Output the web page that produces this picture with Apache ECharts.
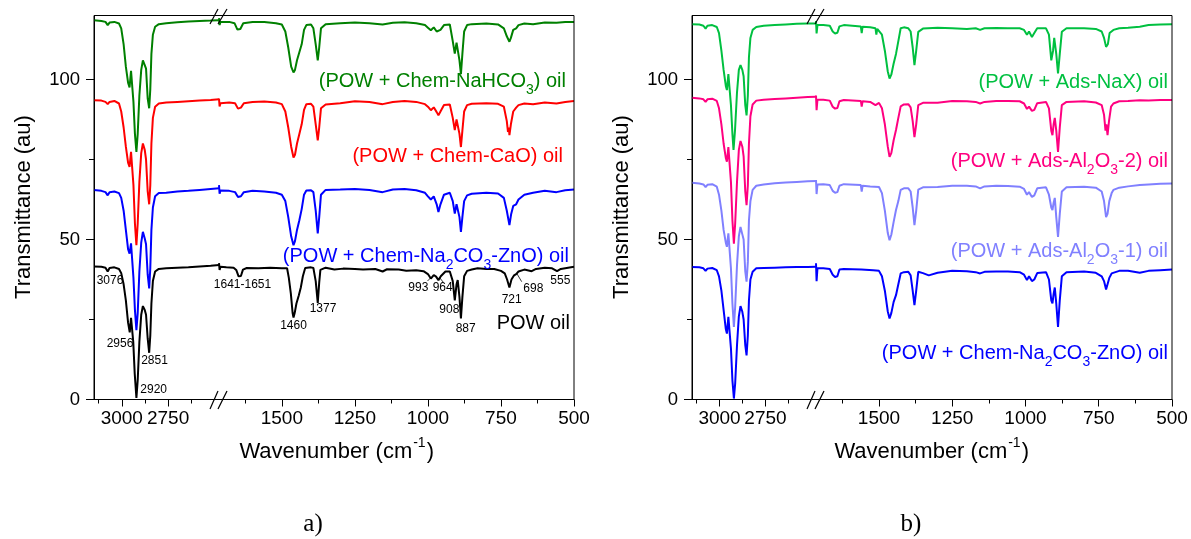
<!DOCTYPE html>
<html><head><meta charset="utf-8">
<script src="https://cdn.jsdelivr.net/npm/echarts@6/dist/echarts.min.js"></script>
<style>html,body{margin:0;padding:0;background:#fff}#c{width:1191px;height:539px}</style>
</head><body><div id="c"></div>
<script>
// ---------- DATA (wavenumber cm-1, transmittance au) ----------
const xMajorHigh = [3000, 2750];
const xMinorHigh = [3125, 2875, 2625];
const xMajorLow = [1500, 1250, 1000, 750, 500];
const xMinorLow = [1625, 1375, 1125, 875, 625];
const yMajor = [0, 50, 100];
const yMinor = [25, 75];

const powOil = [[3150,41.6],[3110,41.5],[3088,41.2],[3076,40.0],[3066,41.1],[3040,41.3],[3015,40.8],[3003,39.5],[2990,36],[2978,31],[2966,24],[2957,21],[2950,25.5],[2945,26],[2938,18],[2930,8],[2921,0.5],[2914,6],[2905,18],[2895,26.5],[2886,29.2],[2876,28],[2869,26.5],[2860,19],[2852,14.6],[2846,20],[2840,30],[2832,37],[2820,40],[2800,40.8],[2760,41],[2700,41.2],[2640,41.3],[2580,41.6],[2520,41.8],[2475,42.0],
[1715,42.6],[1713,40.5],[1710,41.5],[1690,41.3],[1665,41.2],[1656,40.5],[1648,38.5],[1640,38.6],[1633,40.6],[1620,41.1],[1580,41.0],[1540,41.2],[1500,41.0],[1482,41],[1476,38],[1469,33],[1463,27],[1460,25.6],[1456,27],[1450,30],[1442,32.5],[1435,35],[1428,38.5],[1420,41.1],[1400,41.3],[1392,41.1],[1384,37],[1377,30.2],[1372,36.6],[1368,40.5],[1350,41.2],[1320,40.6],[1290,40.9],[1250,40.8],[1222,40.6],[1180,40.8],[1155,40.0],[1140,40.7],[1100,40.6],[1074,40.2],[1040,40.4],[1015,40.1],[1000,39.2],[990,37.8],[980,38.9],[972,38.4],[964,37.3],[956,38.5],[940,40],[925,40],[915,37],[908,31],[902,36],[898,37.3],[892,32],[887,25.3],[882,32],[876,38.5],[866,40.2],[850,40.6],[830,41],[800,40.8],[773,40.8],[750,40.2],[737,39.4],[729,37.5],[721,35],[714,37.5],[705,38.8],[698,39.2],[690,40],[670,40.6],[645,40.1],[630,40.8],[600,41.2],[575,41],[558,40.1],[545,40.8],[520,41.2],[500,41.5]];

const chemNa2CO3ZnO_a = [[3150,65.5],[3110,65.2],[3088,64.8],[3076,63.8],[3066,64.8],[3040,65],[3015,64.5],[3003,63],[2990,59],[2978,53],[2966,47],[2958,45.6],[2950,48.8],[2945,48.5],[2937,38],[2929,28],[2921,21.7],[2914,27],[2905,40],[2895,49],[2886,52.4],[2876,50.3],[2869,48.5],[2860,39],[2852,34.7],[2846,41],[2840,53],[2832,60],[2820,63.5],[2800,64.5],[2760,64.6],[2700,65],[2640,65.2],[2580,65.5],[2520,65.8],[2475,66],
[1715,67],[1713,64.3],[1710,65.3],[1680,65.2],[1660,64.8],[1650,63.3],[1640,63.5],[1630,64.8],[1600,65.2],[1560,65],[1520,64.6],[1500,64],[1488,62],[1478,57],[1468,51],[1460,48.2],[1455,49.5],[1448,53],[1440,56],[1432,59.5],[1424,64],[1416,65.3],[1400,65.4],[1392,64.8],[1384,59],[1377,51.9],[1372,57],[1366,64],[1350,65.5],[1300,65.6],[1250,65.8],[1200,65.5],[1155,64.8],[1120,65.6],[1080,65.8],[1040,65.4],[1010,64.6],[1000,63.5],[990,62.5],[980,63.5],[970,61],[964,58.6],[957,61],[945,64],[925,64.6],[915,62],[908,58.1],[902,61],[898,61.5],[892,57],[887,52.4],[882,57],[876,62],[866,63.8],[850,64.3],[800,64.6],[760,64.4],[740,63],[730,59],[721,54.5],[715,58],[708,60.5],[698,61],[690,62.5],[670,64],[640,64.6],[600,65.2],[560,64.8],[530,65.4],[500,65.6]];

const chemCaO = [[3150,93.5],[3110,93.4],[3088,93],[3076,92.3],[3066,93],[3040,93.3],[3015,92.5],[3003,90],[2990,85],[2978,79],[2966,74],[2958,72.7],[2950,77.4],[2945,77],[2937,67],[2929,55],[2921,48.2],[2914,55],[2905,68],[2895,77],[2886,80],[2876,78],[2869,75],[2860,65],[2852,61],[2846,67],[2840,80],[2832,88],[2820,91.5],[2800,92.5],[2760,92.8],[2700,93],[2640,93.2],[2580,93.4],[2520,93.6],[2475,93.8],
[1715,94],[1713,91.6],[1710,92.6],[1680,92.8],[1660,92.6],[1650,90.9],[1640,91.2],[1630,92.6],[1600,93],[1560,93.1],[1520,92.8],[1500,92.3],[1488,90],[1478,85],[1468,79],[1460,75.6],[1455,76.5],[1448,80],[1440,83],[1432,86],[1424,90.5],[1416,92.3],[1400,92.4],[1392,91.5],[1384,86],[1377,81],[1372,85],[1366,91],[1350,92.2],[1300,92.6],[1250,93.2],[1200,93],[1155,92.3],[1120,93],[1080,93.3],[1040,93],[1010,92.3],[1000,91.5],[990,90.4],[980,91.3],[970,89.8],[964,88.8],[957,90],[945,92],[925,92.2],[915,88],[908,84.2],[902,87.5],[898,88],[892,83],[887,78.9],[882,84],[876,90],[866,92],[850,92.4],[800,92.6],[760,92.4],[740,91.5],[730,87],[726,83.6],[723,85],[721,82.6],[716,86],[708,90],[698,91.2],[690,92],[670,92.5],[640,92.3],[600,92.8],[560,92.5],[530,93],[500,93.3]];

const chemNaHCO3 = [[3150,118.5],[3110,118.3],[3088,118],[3076,117],[3066,117.8],[3040,118],[3015,117.5],[3003,116],[2990,111],[2978,104],[2966,99],[2958,97.5],[2950,102.7],[2945,102.3],[2937,93],[2929,83],[2921,77.4],[2914,83],[2905,95],[2895,103],[2886,106],[2876,104.5],[2869,103.4],[2860,94],[2852,91],[2846,97],[2840,108],[2832,114],[2820,116.5],[2800,117.3],[2760,117.6],[2700,117.9],[2640,118.1],[2580,118.3],[2520,118.4],[2475,118.5],
[1715,119.2],[1713,117],[1710,118],[1680,118],[1662,117.6],[1652,115.6],[1642,115.8],[1632,117.6],[1600,118],[1560,118],[1520,117.6],[1500,117.2],[1488,115],[1478,110],[1468,104],[1460,102.2],[1455,103],[1448,106],[1440,108.5],[1432,111],[1424,115.5],[1416,117],[1400,117.2],[1392,116],[1384,111],[1377,106],[1372,110],[1366,116],[1350,117.3],[1300,117.6],[1250,117.8],[1200,117.6],[1155,117.2],[1120,117.7],[1080,117.9],[1040,117.6],[1010,117],[1000,116.2],[990,115.4],[980,116.3],[970,115],[964,114.4],[957,115.5],[945,117],[925,117.2],[915,112],[908,108.1],[902,111.5],[898,112],[892,106],[887,101.7],[882,108],[876,115],[866,117],[850,117.3],[800,117.5],[760,117.2],[740,116],[730,113.5],[721,111.8],[716,113],[708,115.5],[698,116],[690,117],[670,117.5],[640,117.3],[600,117.8],[560,117.7],[530,118],[500,118]];

const adsNaX = [[3150,117.3],[3110,117.2],[3088,116.8],[3076,115.9],[3066,116.8],[3040,117],[3015,116.4],[3003,114.5],[2990,109],[2978,103],[2966,98],[2960,96.7],[2952,101.7],[2946,101.2],[2938,92],[2930,83],[2924,78],[2916,84],[2905,96],[2895,103],[2886,104.5],[2876,103],[2869,101],[2860,92],[2853,88.8],[2846,95],[2840,107],[2832,113],[2820,115.5],[2800,116.4],[2760,116.8],[2700,117],[2640,117.2],[2580,117.4],[2520,117.5],[2475,117.5],
[1715,118.3],[1713,114.4],[1710,117],[1690,117],[1668,116.8],[1658,115],[1650,114.4],[1642,114.6],[1635,116.6],[1620,117],[1562,116.6],[1559,114.5],[1556,116.5],[1530,116.3],[1512,116],[1509,114],[1506,115.8],[1500,115.8],[1490,114],[1480,109],[1470,102.5],[1464,100.3],[1458,101.5],[1450,105],[1442,108],[1434,112],[1426,116],[1415,116.3],[1400,116],[1392,115],[1385,110],[1379,104.5],[1373,109],[1366,114.9],[1350,115.9],[1300,116.2],[1250,116],[1200,115.8],[1170,116],[1155,115.5],[1140,116],[1100,116.1],[1060,116],[1020,116],[1005,115.5],[995,114],[988,115],[978,113.3],[970,114.5],[960,116],[930,116],[920,114],[912,106],[906,109],[902,113],[895,108],[889,101.9],[883,108],[876,114.9],[860,116],[800,116],[760,115.8],[740,115],[732,113],[725,110.2],[719,111],[713,114.5],[700,115.5],[680,116],[650,116.2],[610,116.5],[580,117],[540,117.2],[500,117.3]];

const adsAl2O3_2 = [[3150,94.3],[3110,94.1],[3088,93.8],[3076,93],[3066,93.8],[3040,94],[3015,93.3],[3003,91],[2990,86],[2978,80],[2966,75.5],[2960,74.3],[2952,78.9],[2946,78.5],[2938,68],[2930,56],[2922,48.7],[2915,55],[2905,68],[2895,78],[2886,80.8],[2876,79],[2869,76],[2860,65],[2853,60.7],[2846,67],[2840,80],[2832,88.5],[2820,92.2],[2800,93.4],[2760,93.7],[2700,93.9],[2640,94.1],[2580,94.3],[2520,94.5],[2475,94.6],
[1715,95],[1713,90.4],[1710,93.7],[1690,93.7],[1668,93.4],[1658,91.5],[1650,90.9],[1642,91.1],[1635,93.2],[1620,93.6],[1562,93.3],[1559,91.5],[1556,93.2],[1530,93],[1512,92],[1500,92.7],[1490,91],[1480,86],[1470,79],[1464,75.8],[1458,77],[1450,81],[1442,84.2],[1434,88],[1426,91.6],[1415,92.2],[1400,92.3],[1392,91.3],[1385,87],[1379,82],[1373,86],[1366,92],[1350,92.7],[1300,92.7],[1250,93.3],[1200,93.2],[1170,93],[1155,92.5],[1140,93],[1100,93.3],[1060,93.3],[1020,93.2],[1005,92.5],[995,90.8],[988,91.5],[978,90.2],[970,90.5],[960,92.6],[930,93],[920,91],[912,84],[908,82.6],[904,86],[900,88],[895,84],[889,77.4],[883,85],[876,92],[860,93],[800,93.2],[760,92.8],[740,92],[732,89],[727,84],[724,86],[720,82.6],[715,87],[708,91.5],[700,92.5],[680,93.2],[650,93.3],[610,93.5],[580,93.4],[540,93.6],[500,93.6]];

const adsAl2O3_1 = [[3150,67.7],[3110,67.5],[3088,67.2],[3076,66.4],[3066,67.1],[3040,67.3],[3015,66.5],[3003,64],[2990,59],[2978,53],[2966,49],[2960,47.7],[2952,51.9],[2946,51.5],[2938,41],[2930,30],[2922,22.7],[2915,29],[2905,42],[2895,51],[2886,53.9],[2876,51.6],[2869,50],[2860,40],[2853,36.8],[2846,43],[2840,56],[2832,62],[2820,65.5],[2800,66.8],[2760,67.2],[2700,67.6],[2640,67.8],[2580,68],[2520,68.2],[2475,68.3],
[1715,68.6],[1713,64.2],[1710,67.2],[1690,67.3],[1668,67],[1658,65.2],[1650,64.6],[1642,64.8],[1635,66.8],[1620,67.3],[1562,67],[1559,65],[1556,66.8],[1530,66.6],[1500,66.4],[1490,64.5],[1480,59],[1470,52],[1464,49.8],[1458,51.5],[1450,55.5],[1442,59.2],[1434,62],[1426,65.5],[1415,66],[1400,66],[1392,65],[1385,60],[1379,54.5],[1373,59],[1366,65.6],[1350,66.3],[1300,66.4],[1250,66.8],[1200,66.8],[1170,66.6],[1155,66],[1140,66.6],[1100,66.8],[1060,66.7],[1020,66.5],[1005,65.8],[995,64],[988,64.8],[978,63.3],[970,63.8],[960,66],[930,66.3],[920,64],[912,60],[908,59.2],[904,61.5],[900,63],[895,57],[889,50.8],[883,58],[876,65],[860,66.3],[800,66.5],[760,66.2],[740,65],[732,62],[725,57],[720,58],[714,62],[706,64.5],[700,65.5],[680,66.2],[650,66.6],[610,67],[580,67.2],[540,67.4],[500,67.5]];

const chemNa2CO3ZnO_b = [[3150,41.4],[3110,41.3],[3088,41],[3076,40.2],[3066,40.9],[3040,41.1],[3015,40.4],[3003,38.5],[2990,34],[2978,28],[2966,22],[2960,20.6],[2952,25.8],[2946,25.5],[2938,16],[2930,6],[2922,0.3],[2915,5],[2905,17],[2895,26],[2886,29.2],[2876,27.4],[2869,25],[2860,17],[2853,13.8],[2846,20],[2840,31],[2832,37.5],[2820,39.9],[2800,41],[2760,41.1],[2700,41.2],[2640,41.3],[2580,41.4],[2520,41.4],[2475,41.5],
[1715,42.6],[1713,37],[1710,41],[1690,41],[1668,40.8],[1658,39],[1650,38.3],[1642,38.5],[1635,40.6],[1620,40.8],[1560,40.6],[1520,40.4],[1500,40.2],[1490,38.5],[1480,34],[1470,27.5],[1464,25.3],[1458,27],[1450,30.5],[1442,32.6],[1434,36],[1426,39.4],[1415,39.8],[1400,39.9],[1392,38.8],[1385,34],[1379,29.5],[1373,34],[1366,39.9],[1350,39.5],[1330,38.8],[1300,39.6],[1250,40.2],[1200,40.1],[1170,39.8],[1155,39.4],[1140,39.9],[1100,40],[1060,40],[1020,39.8],[1005,39],[995,37.3],[988,38.5],[978,37],[970,37.5],[960,39.5],[930,39.8],[920,37.5],[912,31],[908,30],[904,33],[900,35],[895,30],[889,22.7],[883,31],[876,38.5],[860,39.8],[800,40],[760,39.6],[740,38.5],[732,37],[725,34.4],[720,35],[714,38],[706,39.4],[700,39.8],[680,40.2],[650,40.2],[610,39.6],[580,40.2],[540,40.4],[500,40.6]];

const peakLabels = ['3076','2956','2851','2920','1641-1651','1460','1377','993','964','908','887','721','698','555'];

// ---------- CHART ----------
const FONT = '"Liberation Sans", Arial, Helvetica, sans-serif';
const HIGH_MIN = 2475, HIGH_MAX = 3150, LOW_MIN = 500, LOW_MAX = 1715;
const TOP = 15.5, H = 384;
const gridDefs = [{left:94,width:125},{left:219,width:355},{left:692,width:124},{left:816,width:356}];

const grid = gridDefs.map(g => ({left:g.left, top:TOP, width:g.width, height:H, show:false, containLabel:false, outerBoundsMode:'none'}));

const plain = v => String(v);
const xAxis = [];
gridDefs.forEach((g, gi) => {
  const high = gi % 2 === 0;
  const base = {gridIndex:gi, type:'value', inverse:true, position:'bottom',
    min: high ? HIGH_MIN : LOW_MIN, max: high ? HIGH_MAX : LOW_MAX, splitLine:{show:false}};
  xAxis.push(Object.assign({}, base, {
    axisLine:{show:true, onZero:false, lineStyle:{color:'#000', width:1}},
    axisTick:{show:true, customValues: high ? xMajorHigh : xMajorLow, length:7, lineStyle:{color:'#000', width:1}},
    axisLabel:{show:true, customValues: high ? xMajorHigh : xMajorLow, formatter:plain, hideOverlap:false, margin:10, fontSize:19, color:'#000', fontFamily:FONT}
  }));
  xAxis.push(Object.assign({}, base, {
    axisLine:{show:false, onZero:false},
    axisTick:{show:true, customValues: high ? xMinorHigh : xMinorLow, length:4, lineStyle:{color:'#000', width:1}},
    axisLabel:{show:false}
  }));
});

const yAxis = [];
const yIdx = [];
gridDefs.forEach((g, gi) => {
  const base = {gridIndex:gi, type:'value', min:0, max:120, position:'left', splitLine:{show:false}};
  yIdx.push(yAxis.length);
  if (gi % 2 === 0) {
    yAxis.push(Object.assign({}, base, {
      axisLine:{show:true, lineStyle:{color:'#000', width:1}},
      axisTick:{show:true, customValues:yMajor, length:8, lineStyle:{color:'#000', width:1}},
      axisLabel:{show:true, customValues:yMajor, formatter:plain, hideOverlap:false, margin:14, fontSize:18.5, color:'#000', fontFamily:FONT}
    }));
    yAxis.push(Object.assign({}, base, {
      axisLine:{show:false},
      axisTick:{show:true, customValues:yMinor, length:5, lineStyle:{color:'#000', width:1}},
      axisLabel:{show:false}
    }));
  } else {
    yAxis.push(Object.assign({}, base, {show:false}));
  }
});

const series = [];
function addSpectrum(arr, color, panel) {
  [panel*2, panel*2+1].forEach(gi => {
    const high = gi % 2 === 0;
    series.push({
      type:'line', xAxisIndex: gi*2, yAxisIndex: yIdx[gi],
      data: arr.filter(p => high ? p[0] >= HIGH_MIN : p[0] <= LOW_MAX),
      showSymbol:false, symbol:'none', silent:true, clip:true, animation:false,
      lineStyle:{color:color, width:2}, itemStyle:{color:color}
    });
  });
}
addSpectrum(powOil, '#000000', 0);
addSpectrum(chemNa2CO3ZnO_a, '#0000FF', 0);
addSpectrum(chemCaO, '#FF0000', 0);
addSpectrum(chemNaHCO3, '#008000', 0);
addSpectrum(chemNa2CO3ZnO_b, '#0000FF', 1);
addSpectrum(adsAl2O3_1, '#8080FF', 1);
addSpectrum(adsAl2O3_2, '#FF0080', 1);
addSpectrum(adsNaX, '#00C040', 1);

// ---------- GRAPHIC (frames, breaks, texts) ----------
const graphic = [];
[94, 692].forEach(L => graphic.push({type:'rect', shape:{x:L, y:TOP, width:480, height:H}, style:{fill:'none', stroke:'#000', lineWidth:1}, z:10}));
function breakMarks(J) {
  const st = {stroke:'#000', lineWidth:1.2};
  [[409,391],[24,9]].forEach(([yb, yt]) => {
    graphic.push({type:'line', shape:{x1:J-9, y1:yb, x2:J-1, y2:yt}, style:st, z:11});
    graphic.push({type:'line', shape:{x1:J-1, y1:yb, x2:J+8, y2:yt}, style:st, z:11});
  });
}
breakMarks(219); breakMarks(816);

function richStyle(color) {
  return {
    m:{fontSize:20, lineHeight:20, height:20, verticalAlign:'top', fontFamily:FONT, fill:color},
    s:{fontSize:14, lineHeight:38, height:38, verticalAlign:'top', fontFamily:FONT, fill:color}
  };
}
function seriesLabel(text, color, x, y) {
  graphic.push({type:'text', x:x, y:y, z:12, style:{text:text, rich:richStyle(color), align:'right', verticalAlign:'top', fill:color, fontFamily:FONT, fontSize:20}});
}
seriesLabel('{m|(POW + Chem-NaHCO}{s|3}{m|) oil}', '#008000', 566, 71.5);
seriesLabel('{m|(POW + Chem-CaO) oil}', '#FF0000', 563, 146);
seriesLabel('{m|(POW + Chem-Na}{s|2}{m|CO}{s|3}{m|-ZnO) oil}', '#0000FF', 569, 246);
seriesLabel('{m|POW oil}', '#000000', 570, 313.5);
seriesLabel('{m|(POW + Ads-NaX) oil}', '#00C040', 1168, 72.5);
seriesLabel('{m|(POW + Ads-Al}{s|2}{m|O}{s|3}{m|-2) oil}', '#FF0080', 1168, 151);
seriesLabel('{m|(POW + Ads-Al}{s|2}{m|O}{s|3}{m|-1) oil}', '#8080FF', 1168, 241.5);
seriesLabel('{m|(POW + Chem-Na}{s|2}{m|CO}{s|3}{m|-ZnO) oil}', '#0000FF', 1168, 343);

const peakPos = [[110,281],[120,344],[154.5,361],[153.7,390],[242.5,285],[293.5,326],[323,308.7],[418.3,287.7],[442.7,287.7],[449.3,310],[465.7,329],[511.7,300],[533.3,289],[560.3,281]];
peakLabels.forEach((t, i) => graphic.push({type:'text', x:peakPos[i][0], y:peakPos[i][1], z:12,
  style:{text:t, fontSize:12, fontFamily:FONT, fill:'#000', align:'center', verticalAlign:'middle'}}));
[[[427.5,281],[431.5,277]],[[439.5,277.5],[443.5,282.5]],[[516.7,273.3],[521.7,281.7]]].forEach(([a,b]) =>
  graphic.push({type:'line', shape:{x1:a[0], y1:a[1], x2:b[0], y2:b[1]}, style:{stroke:'#000', lineWidth:0.8}, z:12}));

[336.7, 931.7].forEach(cx => {
  graphic.push({type:'text', x:cx, y:440.7, z:12, style:{text:'{m|Wavenumber (cm}{p|-1}{m|)}', align:'center', verticalAlign:'top',
    rich:{m:{fontSize:22, lineHeight:22, height:22, verticalAlign:'top', fontFamily:FONT, fill:'#000'},
          p:{fontSize:14, lineHeight:5, height:5, verticalAlign:'top', fontFamily:FONT, fill:'#000', padding:[0,1,0,1]}}}});
});
[24, 622].forEach(cx => graphic.push({type:'text', x:cx, y:207, rotation:Math.PI/2, z:12,
  style:{text:'Transmittance (au)', fontSize:22, fontFamily:FONT, fill:'#000', align:'center', verticalAlign:'middle'}}));
[['a)', 313], ['b)', 911]].forEach(([t, cx]) => graphic.push({type:'text', x:cx, y:524, z:12,
  style:{text:t, fontSize:25, fontFamily:'"Liberation Serif", "Times New Roman", serif', fill:'#000', align:'center', verticalAlign:'middle'}}));

const chart = echarts.init(document.getElementById('c'), null, {renderer:'canvas'});
chart.setOption({animation:false, backgroundColor:'#fff', grid, xAxis, yAxis, series, graphic});
</script></body></html>
